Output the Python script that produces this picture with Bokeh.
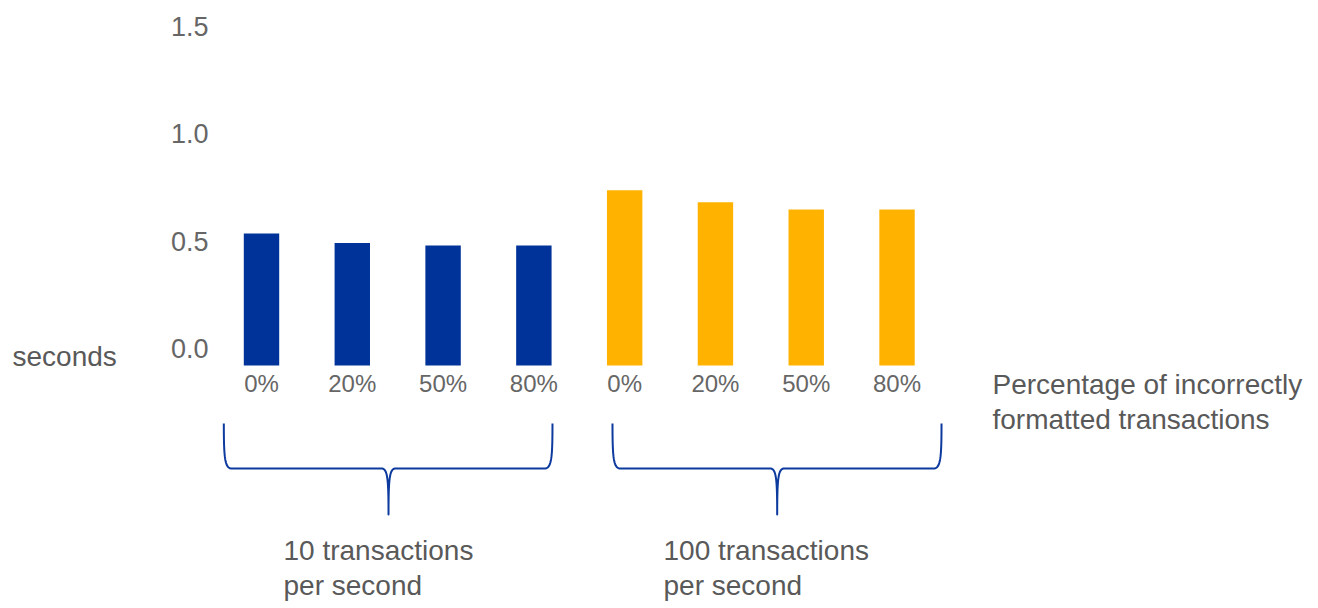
import numpy as np
from bokeh.plotting import figure
from bokeh.models import (Range1d, LinearAxis, FixedTicker, NumeralTickFormatter,
                          ColumnDataSource)
from bokeh.core.properties import value
from bokeh.embed import file_html
from bokeh.resources import INLINE

# ---------------- data ----------------
group_labels = ["10 transactions\nper second", "100 transactions\nper second"]
categories = ["0%", "20%", "50%", "80%"]
seconds_10_tps = [0.55, 0.51, 0.50, 0.50]
seconds_100_tps = [0.73, 0.68, 0.65, 0.65]
group_colors = ["#003399", "#FFB300"]
y_ticks = [0.0, 0.5, 1.0, 1.5]
y_title = "seconds"
x_title = "Percentage of incorrectly\nformatted transactions"

# ---------------- layout (pixels) ----------------
W, H = 1310, 604
PX_CAT = 90.79          # pixels per category step
X0 = 261.0              # canvas x of first category centre
PX_UNIT = 240.0         # pixels per second (bars)
BASE = 365.0            # canvas y of bar baseline
AX_ZERO = 348.0         # canvas y of the "0.0" label
AX_UNIT = 214.67        # label spacing per second

def dx(px):   # canvas px -> x data
    return (px - X0) / PX_CAT

def dy(py):   # canvas py -> y data
    return (BASE - py) / PX_UNIT

x_range = Range1d(dx(0), dx(W))
y_range = Range1d(dy(H), dy(0))

p = figure(width=W, height=H, x_range=x_range, y_range=y_range,
           output_backend="svg", toolbar_location=None, title=None,
           x_axis_type=None, y_axis_type=None, min_border=0)
p.outline_line_color = None
p.background_fill_color = "white"
p.border_fill_color = "white"

# ---------------- bars ----------------
n = len(categories)
xs = list(range(2 * n))
tops = seconds_10_tps + seconds_100_tps
colors = [group_colors[0]] * n + [group_colors[1]] * n
src = ColumnDataSource(dict(x=xs, top=tops, color=colors))
p.vbar(x="x", top="top", bottom=0, width=0.39, fill_color="color",
       line_color=None, source=src)

# ---------------- axes ----------------
xaxis = LinearAxis(ticker=FixedTicker(ticks=xs),
                   major_label_overrides={i: categories[i % n] for i in xs},
                   fixed_location=0)
xaxis.axis_line_color = None
xaxis.major_tick_line_color = None
xaxis.minor_tick_line_color = None
xaxis.major_tick_out = 0
xaxis.major_tick_in = 0
xaxis.major_label_standoff = 4
xaxis.major_label_text_font = "Liberation Sans"
xaxis.major_label_text_font_size = "24px"
xaxis.major_label_text_color = "#666666"
p.add_layout(xaxis, "below")

p.extra_y_ranges = {"labels": Range1d(-(H - AX_ZERO) / AX_UNIT, AX_ZERO / AX_UNIT)}
yaxis = LinearAxis(y_range_name="labels", ticker=FixedTicker(ticks=y_ticks),
                   formatter=NumeralTickFormatter(format="0.0"),
                   fixed_location=dx(208))
yaxis.axis_line_color = None
yaxis.major_tick_line_color = None
yaxis.minor_tick_line_color = None
yaxis.major_tick_out = 0
yaxis.major_tick_in = 0
yaxis.major_label_standoff = 0
yaxis.major_label_text_font = "Liberation Sans"
yaxis.major_label_text_font_size = "27px"
yaxis.major_label_text_color = "#666666"
p.add_layout(yaxis, "left")

# ---------------- braces ----------------
def cubic(p0, c1, c2, p3, k=24):
    t = np.linspace(0, 1, k)[:, None]
    pts = ((1 - t) ** 3) * np.array(p0) + 3 * ((1 - t) ** 2) * t * np.array(c1) \
        + 3 * (1 - t) * t ** 2 * np.array(c2) + t ** 3 * np.array(p3)
    return pts

def brace_path(L, M, R, top, mid, tip):
    # all in canvas px
    segs = [
        cubic((L, top), (L, mid - 10), (L + 1, mid), (L + 8, mid)),
        cubic((L + 8, mid), (L + 8, mid), (M - 7, mid), (M - 7, mid), 2),
        cubic((M - 7, mid), (M - 1, mid), (M, mid + 10), (M, tip)),
        cubic((M, tip), (M, mid + 10), (M + 1, mid), (M + 7, mid)),
        cubic((M + 7, mid), (M + 7, mid), (R - 8, mid), (R - 8, mid), 2),
        cubic((R - 8, mid), (R - 1, mid), (R, mid - 10), (R, top)),
    ]
    pts = np.vstack(segs)
    return [dx(v) for v in pts[:, 0]], [dy(v) for v in pts[:, 1]]

# brace spans relative to each group's first/last category (in category steps)
brace_specs = [(0 - 0.415, 1.399, 3 + 0.205), (4 - 0.134, 5.680, 7 + 0.490)]
for (l, m, r) in brace_specs:
    bx, by = brace_path(X0 + l * PX_CAT, X0 + m * PX_CAT, X0 + r * PX_CAT,
                        423.0, 468.0, 514.0)
    p.line(bx, by, line_color="#0d3a9e", line_width=2, line_join="round")

# ---------------- texts ----------------
txt = dict(text_font=value("Liberation Sans"), text_font_size="28px",
           text_color="#595959", text_align="left", text_line_height=1.15)
p.text(x=[dx(12)], y=[dy(356)], text=[y_title], text_baseline="middle", **txt)
p.text(x=[dx(992)], y=[dy(368)], text=[x_title], text_baseline="top", **txt)
p.text(x=[dx(283), dx(663)], y=[dy(534), dy(534)], text=group_labels,
       text_baseline="top", **txt)

open("out.html", "w").write(file_html(p, INLINE, title="chart"))
